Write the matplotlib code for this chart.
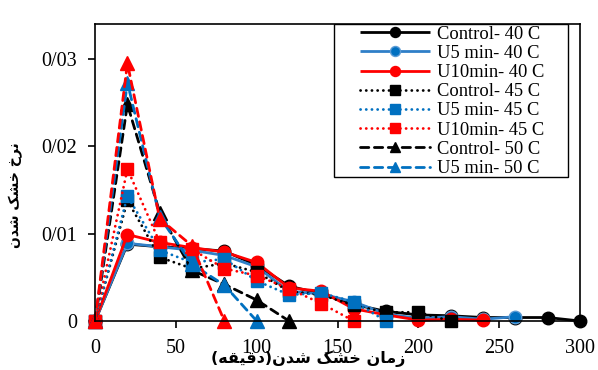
import matplotlib
matplotlib.use("Agg")
import matplotlib.pyplot as plt
from matplotlib.patches import Rectangle

# drying time (min) and drying rate
t = [0, 20, 40, 60, 80, 100, 120, 140, 160, 180, 200, 220, 240, 260, 280, 300]

control_40 = [0, 0.0088, 0.0085, 0.0083, 0.0080, 0.0064, 0.0040, 0.0031, 0.0019,
              0.0011, 0.0007, 0.0006, 0.0004, 0.0004, 0.0004, 0]
u5_40 = [0, 0.0089, 0.0085, 0.0081, 0.0075, 0.0062, 0.0034, 0.0031, 0.0022,
         0.0008, 0.0003, 0.0005, 0.0002, 0.0005]
u10_40 = [0, 0.0099, 0.0090, 0.0084, 0.0079, 0.0067, 0.0038, 0.0034, 0.0014,
          0.0007, 0.0001, 0.0002, 0.0001]
control_45 = [0, 0.0138, 0.0073, 0.0060, 0.0066, 0.0056, 0.0034, 0.0030, 0.0018,
              0.0010, 0.0010, 0]
u5_45 = [0, 0.0143, 0.0081, 0.0067, 0.0071, 0.0046, 0.0030, 0.0032, 0.0022, 0]
u10_45 = [0, 0.0174, 0.0090, 0.0082, 0.0060, 0.0052, 0.0037, 0.0020, 0]
control_50 = [0, 0.0248, 0.0124, 0.0058, 0.0042, 0.0024, 0]
u5_50 = [0, 0.0273, 0.0119, 0.0065, 0.0041, 0]
u10_50 = [0, 0.0295, 0.0117, 0.0086, 0]

labels = ["Control- 40 C", "U5 min- 40 C", "U10min- 40 C",
          "Control- 45 C", "U5 min- 45 C", "U10min- 45 C",
          "Control- 50 C", "U5 min- 50 C"]

x_ticks = [0, 50, 100, 150, 200, 250, 300]
y_ticks = [0, 0.01, 0.02, 0.03]
y_ticklabels = ["0", "0/01", "0/02", "0/03"]

# Persian labels, pre-shaped (presentation forms, visual order)
xlabel = "(\ufeea\ufed8\ufbff\ufed7\ufea9)\ufee5\ufeaa\ufeb7 \ufb8f\ufeb8\ufea7 \ufee5\ufe8e\ufee3\ufeaf"
ylabel = "\ufee5\ufeaa\ufeb7 \ufb8f\ufeb8\ufea7 \ufea5\ufeae\ufee7"

BLACK = "#000000"
BLUE = "#0070C0"
BLUE_LINE = "#2f7fc8"
BLUE_EDGE = "#5b9bd5"
RED = "#FF0000"

DOT = (0, (0.05, 2.0))
DASH = (0, (3.0, 2.0))

plt.rcParams["font.family"] = ["Liberation Serif", "DejaVu Serif"]

fig = plt.figure(figsize=(5.98, 3.70), dpi=100)
ax = fig.add_axes([0.159, 0.1324, 0.811, 0.8026])

series = [
    (control_40, BLACK, BLACK, BLACK, "-", "o"),
    (u5_40, BLUE_LINE, BLUE, BLUE_EDGE, "-", "o"),
    (u10_40, RED, RED, RED, "-", "o"),
    (control_45, BLACK, BLACK, BLACK, DOT, "s"),
    (u5_45, BLUE, BLUE, BLUE, DOT, "s"),
    (u10_45, RED, RED, RED, DOT, "s"),
    (control_50, BLACK, BLACK, BLACK, DASH, "^"),
    (u5_50, BLUE, BLUE, BLUE, DASH, "^"),
    (u10_50, RED, RED, RED, DASH, "^"),
]

handles = []
for vals, lc, fc, ec, ls, mk in series:
    ms = 9 if mk != "^" else 9.5
    ln, = ax.plot(t[:len(vals)], vals, color=lc, ls=ls, lw=2.0, marker=mk,
                  ms=ms, mfc=fc, mec=ec, mew=1.0, clip_on=False,
                  dash_capstyle="round", solid_capstyle="butt")
    handles.append(ln)

ax.set_xlim(0, 300)
ax.set_ylim(0, 0.034)
ax.set_xticks(x_ticks)
ax.set_yticks(y_ticks)
ax.set_yticklabels(y_ticklabels)
ax.tick_params(direction="out", length=5, width=1.2, labelsize=14.5, pad=8)
for s in ax.spines.values():
    s.set_linewidth(1.2)

ax.set_xlabel(xlabel, family="DejaVu Sans", fontsize=11.5, fontweight="bold")
ax.xaxis.set_label_coords(0.44, -0.1)
ax.set_ylabel(ylabel, family="DejaVu Sans", fontsize=10, fontweight="bold")
ax.yaxis.set_label_coords(-0.148, 0.424)

leg = ax.legend(handles[:8], labels, loc="upper left",
                bbox_to_anchor=(0.546, 0.995), frameon=False, fontsize=13.3,
                borderpad=0, borderaxespad=0, handlelength=3.8,
                handletextpad=0.35, labelspacing=0.12, markerscale=0.8)
ax.add_patch(Rectangle((0.493, 0.485), 0.482, 0.515, transform=ax.transAxes,
                       fill=True, facecolor="white", edgecolor="black",
                       lw=1.0, zorder=4))
leg.set_zorder(5)

fig.savefig("out.png", dpi=100)
